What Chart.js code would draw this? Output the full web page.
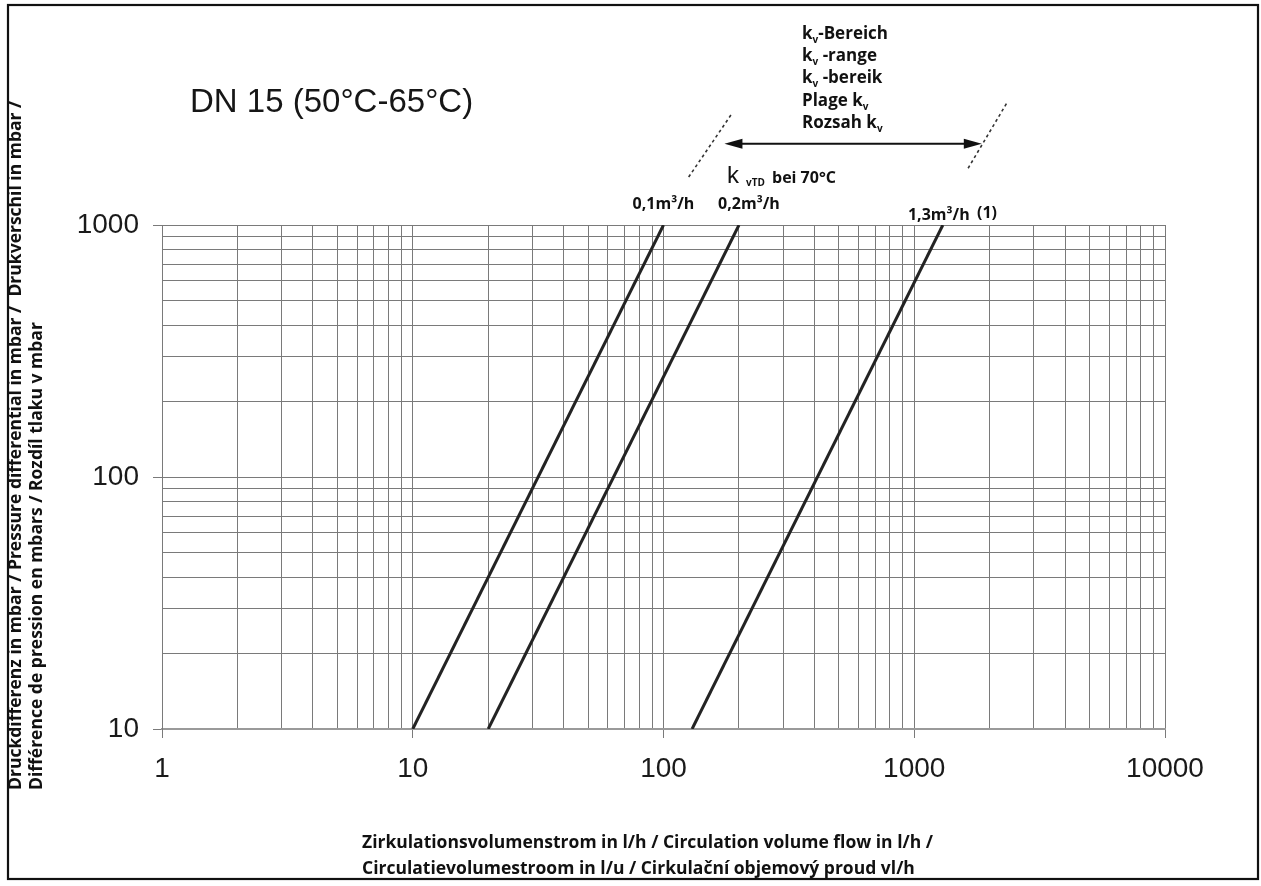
<!DOCTYPE html>
<html>
<head>
<meta charset="utf-8">
<script src="https://cdn.jsdelivr.net/npm/chart.js@4/dist/chart.umd.min.js"></script>
<style>
  html, body { margin: 0; padding: 0; background: #fff; }
  #wrap { position: relative; width: 1261px; height: 886px; }
  canvas { display: block; }
</style>
</head>
<body>
<div id="wrap"><canvas id="c" width="1261" height="886"></canvas></div>
<script>
// ---- data ----
const pressureDrop = [10, 1000];          // mbar (line end points)
const flowKv01 = [10, 100];               // l/h for kv 0,1 m3/h
const flowKv02 = [20, 200];               // l/h for kv 0,2 m3/h
const flowKv13 = [130, 1300];             // l/h for kv 1,3 m3/h
const seriesLabels = ['0,1m³/h', '0,2m³/h', '1,3m³/h'];
const xMajorTicks = [1, 10, 100, 1000, 10000];
const yMajorTicks = [10, 100, 1000];
const kvRangeArrowX = [175, 1860];        // l/h
const kvRangeArrowY = 2100;               // mbar
const kvRangeLeftDash = [[126, 1550], [188, 2780]];
const kvRangeRightDash = [[1640, 1680], [2340, 3050]];

const titleText = 'DN 15 (50°C-65°C)';
const yTitleLines = ['Druckdifferenz in mbar / Pressure differential in mbar /  Drukverschil in mbar /',
                     'Différence de pression en mbars / Rozdíl tlaku v mbar'];
const xTitleLines = ['Zirkulationsvolumenstrom in l/h / Circulation volume flow in l/h /',
                     'Circulatievolumestroom in l/u / Cirkulační objemový proud vl/h'];

function pts(xs, ys) { return xs.map((x, i) => ({ x: x, y: ys[i] })); }
function decadeTicks(majors) {
  const t = [];
  for (let i = 0; i < majors.length; i++) {
    if (i === majors.length - 1) { t.push({ value: majors[i] }); break; }
    for (let k = 1; k <= 9; k++) t.push({ value: k * majors[i] });
  }
  return t;
}

const BOLD = '"Open Sans", "DejaVu Sans", sans-serif';

function kvText(ctx, x, y, pre, post, size) {
  ctx.font = 'bold ' + size + 'px ' + BOLD;
  ctx.textAlign = 'left';
  ctx.textBaseline = 'alphabetic';
  let cx = x;
  ctx.fillText(pre + 'k', cx, y);
  cx += ctx.measureText(pre + 'k').width;
  ctx.font = 'bold ' + Math.round(size * 0.6) + 'px ' + BOLD;
  ctx.fillText('v', cx, y + 4);
  cx += ctx.measureText('v').width;
  ctx.font = 'bold ' + size + 'px ' + BOLD;
  ctx.fillText(post, cx, y);
}

const annotations = {
  id: 'annotations',
  beforeDraw(chart) {
    const ctx = chart.ctx;
    ctx.save();
    ctx.fillStyle = '#fff';
    ctx.fillRect(0, 0, chart.width, chart.height);
    ctx.restore();
  },
  afterDraw(chart) {
    const ctx = chart.ctx;
    const xs = chart.scales.x, ys = chart.scales.y;
    const X = v => xs.getPixelForValue(v), Y = v => ys.getPixelForValue(v);
    ctx.save();
    // frame
    ctx.strokeStyle = '#111';
    ctx.lineWidth = 2.2;
    ctx.strokeRect(8, 5, 1250, 874);

    // title
    ctx.fillStyle = '#161616';
    ctx.font = '33px "Liberation Sans", Arial, sans-serif';
    ctx.textAlign = 'left';
    ctx.textBaseline = 'alphabetic';
    ctx.fillText(titleText, 190, 112);

    // y title (rotated)
    ctx.fillStyle = '#111';
    ctx.font = 'bold 17.5px ' + BOLD;
    [16, 37].forEach((xx, i) => {
      ctx.save();
      ctx.translate(xx, 790);
      ctx.rotate(-Math.PI / 2);
      ctx.textAlign = 'left';
      ctx.textBaseline = 'middle';
      ctx.fillText(yTitleLines[i], 0, 0);
      ctx.restore();
    });
    // x title
    ctx.textAlign = 'left';
    ctx.textBaseline = 'alphabetic';
    ctx.fillText(xTitleLines[0], 362, 848);
    ctx.fillText(xTitleLines[1], 362, 874);

    // series labels above the upper ends of the lines
    ctx.font = 'bold 16px ' + BOLD;
    ctx.textAlign = 'center';
    const tops = [flowKv01[1], flowKv02[1], flowKv13[1]];
    const lblDx = [0, 10, -4];
    const lblDy = [-16, -16, -5];
    tops.forEach((f, i) => {
      ctx.fillText(seriesLabels[i], X(f) + lblDx[i], Y(pressureDrop[1]) + lblDy[i]);
    });
    ctx.textAlign = 'left';
    ctx.fillText('(1)', 977, 218);

    // k vTD bei 70°C
    ctx.font = '24px "Liberation Sans", Arial, sans-serif';
    ctx.fillText('k', 727, 183);
    ctx.font = 'bold 10px ' + BOLD;
    ctx.fillText('vTD', 746, 186);
    ctx.font = 'bold 16px ' + BOLD;
    ctx.fillText('bei 70°C', 772, 183);

    // kv range block
    const bx = 802, by0 = 39, dy = 22.2, fs = 17;
    kvText(ctx, bx, by0, '', '-Bereich', fs);
    kvText(ctx, bx, by0 + dy, '', ' -range', fs);
    kvText(ctx, bx, by0 + 2 * dy, '', ' -bereik', fs);
    kvText(ctx, bx, by0 + 3 * dy, 'Plage ', '', fs);
    kvText(ctx, bx, by0 + 4 * dy, 'Rozsah ', '', fs);

    // double arrow
    const ax1 = X(kvRangeArrowX[0]), ax2 = X(kvRangeArrowX[1]), ay = Y(kvRangeArrowY);
    ctx.strokeStyle = '#111';
    ctx.fillStyle = '#111';
    ctx.lineWidth = 2;
    ctx.beginPath();
    ctx.moveTo(ax1 + 10, ay); ctx.lineTo(ax2 - 10, ay); ctx.stroke();
    ctx.beginPath();
    ctx.moveTo(ax1, ay); ctx.lineTo(ax1 + 18, ay - 5); ctx.lineTo(ax1 + 18, ay + 5); ctx.closePath(); ctx.fill();
    ctx.beginPath();
    ctx.moveTo(ax2, ay); ctx.lineTo(ax2 - 18, ay - 5); ctx.lineTo(ax2 - 18, ay + 5); ctx.closePath(); ctx.fill();

    // dashed range limits
    ctx.setLineDash([3, 3]);
    ctx.lineWidth = 1.6;
    ctx.strokeStyle = '#333';
    [kvRangeLeftDash, kvRangeRightDash].forEach(d => {
      ctx.beginPath();
      ctx.moveTo(X(d[0][0]), Y(d[0][1]));
      ctx.lineTo(X(d[1][0]), Y(d[1][1]));
      ctx.stroke();
    });
    ctx.restore();
  }
};

const gridColor = '#7a7a7a';
const tickFont = { family: '"Liberation Sans", Arial, sans-serif', size: 28 };

new Chart(document.getElementById('c'), {
  type: 'scatter',
  data: {
    datasets: [
      { label: seriesLabels[0], data: pts(flowKv01, pressureDrop) },
      { label: seriesLabels[1], data: pts(flowKv02, pressureDrop) },
      { label: seriesLabels[2], data: pts(flowKv13, pressureDrop) }
    ].map(d => Object.assign(d, {
      showLine: true, borderColor: '#232323', borderWidth: 3,
      pointRadius: 0, pointHoverRadius: 0, fill: false
    }))
  },
  options: {
    responsive: false,
    animation: false,
    devicePixelRatio: 1,
    layout: { padding: { left: 0, right: 96, top: 225, bottom: 0 } },
    plugins: { legend: { display: false }, tooltip: { enabled: false } },
    scales: {
      x: {
        type: 'logarithmic', min: 1, max: 10000, position: 'bottom',
        afterBuildTicks: s => { s.ticks = decadeTicks(xMajorTicks); },
        afterFit: s => { s.height = 157; },
        ticks: {
          autoSkip: false, maxRotation: 0, color: '#1a1a1a', font: tickFont, padding: 14,
          callback: v => xMajorTicks.includes(v) ? String(v) : ''
        },
        grid: {
          color: gridColor, lineWidth: 1, tickLength: 9,
          tickColor: c => (c.tick && xMajorTicks.includes(c.tick.value)) ? gridColor : 'rgba(0,0,0,0)'
        },
        border: { color: '#9a9a9a', width: 2 }
      },
      y: {
        type: 'logarithmic', min: 10, max: 1000,
        afterBuildTicks: s => { s.ticks = decadeTicks(yMajorTicks); },
        afterFit: s => { s.width = 162; },
        ticks: {
          autoSkip: false, color: '#1a1a1a', font: tickFont, padding: 14,
          callback: v => yMajorTicks.includes(v) ? String(v) : ''
        },
        grid: {
          color: gridColor, lineWidth: 1, tickLength: 9,
          tickColor: c => (c.tick && yMajorTicks.includes(c.tick.value)) ? gridColor : 'rgba(0,0,0,0)'
        },
        border: { color: gridColor, width: 1 }
      }
    }
  },
  plugins: [annotations]
});
</script>
</body>
</html>
